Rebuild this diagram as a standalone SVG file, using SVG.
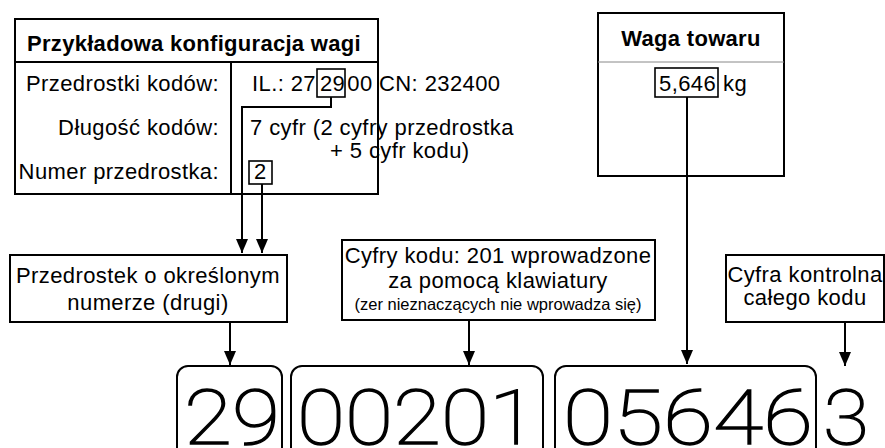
<svg xmlns="http://www.w3.org/2000/svg" width="885" height="448" viewBox="0 0 885 448">
<style>
.t{font-family:"Liberation Sans",Arial,sans-serif;font-size:22px;letter-spacing:0.4px;fill:#000}
.b{font-weight:bold;letter-spacing:0.3px}
.s{font-size:16.5px;letter-spacing:0}
.m{text-anchor:middle}
.e{text-anchor:end}
.box{fill:#fff;stroke:#000;stroke-width:2}
.sm{fill:none;stroke:#000;stroke-width:1.6}
.big{font-family:Roboto,"Liberation Sans",sans-serif;font-weight:100;font-size:76px;fill:#000;stroke:#000;stroke-width:1.4}
.ln{fill:none;stroke:#000;stroke-width:2}
</style>
<defs>
<marker id="ah" viewBox="0 0 14 12" refX="14" refY="6" markerWidth="14" markerHeight="12" markerUnits="userSpaceOnUse" orient="auto">
<path d="M0,0 L14,6 L0,12 Z" fill="#000"/>
</marker>
</defs>
<rect width="885" height="448" fill="#fff"/>

<g id="config">
<rect class="box" x="15" y="19" width="363" height="175"/>
<line x1="15" y1="62" x2="378" y2="62" stroke="#000" stroke-width="2"/>
<line x1="231" y1="62" x2="231" y2="194" stroke="#000" stroke-width="2"/>
<text class="t b" x="27" y="51">Przykładowa konfiguracja wagi</text>
<text class="t e" x="219" y="91">Przedrostki kodów:</text>
<text class="t e" x="219" y="135">Długość kodów:</text>
<text class="t e" x="219" y="179">Numer przedrostka:</text>
<text class="t" x="252" y="91">IL.: 27<tspan dx="4">29</tspan><tspan dx="2">00 CN: 232400</tspan></text>
<rect class="sm" x="317" y="69" width="28" height="28"/>
<text class="t" x="250" y="135">7 cyfr (2 cyfry przedrostka</text>
<text class="t" x="330" y="158">+ 5 cyfr kodu)</text>
<rect class="sm" x="249" y="161" width="23" height="23"/>
<text class="t" x="254" y="179">2</text>
</g>

<g id="waga">
<rect class="box" x="598" y="13" width="186" height="163"/>
<line x1="598" y1="62" x2="784" y2="62" stroke="#888" stroke-width="1"/>
<text class="t b m" x="691" y="46">Waga towaru</text>
<rect class="sm" x="655" y="68" width="63" height="29"/>
<text class="t" x="659" y="91">5,646<tspan dx="7">kg</tspan></text>
</g>

<g id="przedrostek">
<rect class="box" x="10" y="255" width="277" height="67"/>
<text class="t m" x="148" y="283">Przedrostek o określonym</text>
<text class="t m" x="148" y="310">numerze (drugi)</text>
</g>

<g id="cyfry">
<rect class="box" x="342" y="240" width="313" height="80"/>
<text class="t m" x="498" y="263">Cyfry kodu: 201 wprowadzone</text>
<text class="t m" x="498" y="288">za pomocą klawiatury</text>
<text class="t s m" x="498" y="310">(zer nieznaczących nie wprowadza się)</text>
</g>

<g id="kontrolna">
<rect class="box" x="726" y="255" width="158" height="67"/>
<text class="t m" x="805" y="282">Cyfra kontrolna</text>
<text class="t m" x="805" y="305">całego kodu</text>
</g>

<g id="kod">
<rect class="ln" x="177" y="366" width="105" height="100" rx="11"/>
<rect class="ln" x="291" y="366" width="252" height="100" rx="11"/>
<rect class="ln" x="555" y="366" width="261" height="100" rx="11"/>
<text class="big" x="184" y="444" textLength="96" lengthAdjust="spacingAndGlyphs">29</text>
<text class="big" x="297" y="444" textLength="240" lengthAdjust="spacingAndGlyphs">00201</text>
<text class="big" x="563" y="444" textLength="250" lengthAdjust="spacingAndGlyphs">05646</text>
<text class="big" x="823" y="444" textLength="46" lengthAdjust="spacingAndGlyphs">3</text>
</g>

<g id="connectors">
<path class="ln" d="M331,97 V107 H242 V253" marker-end="url(#ah)"/>
<path class="ln" d="M262,184 V253" marker-end="url(#ah)"/>
<path class="ln" d="M230,322 V365" marker-end="url(#ah)"/>
<path class="ln" d="M469,320 V365" marker-end="url(#ah)"/>
<path class="ln" d="M687,97 V364" marker-end="url(#ah)"/>
<path class="ln" d="M845,322 V366" marker-end="url(#ah)"/>
</g>
</svg>
